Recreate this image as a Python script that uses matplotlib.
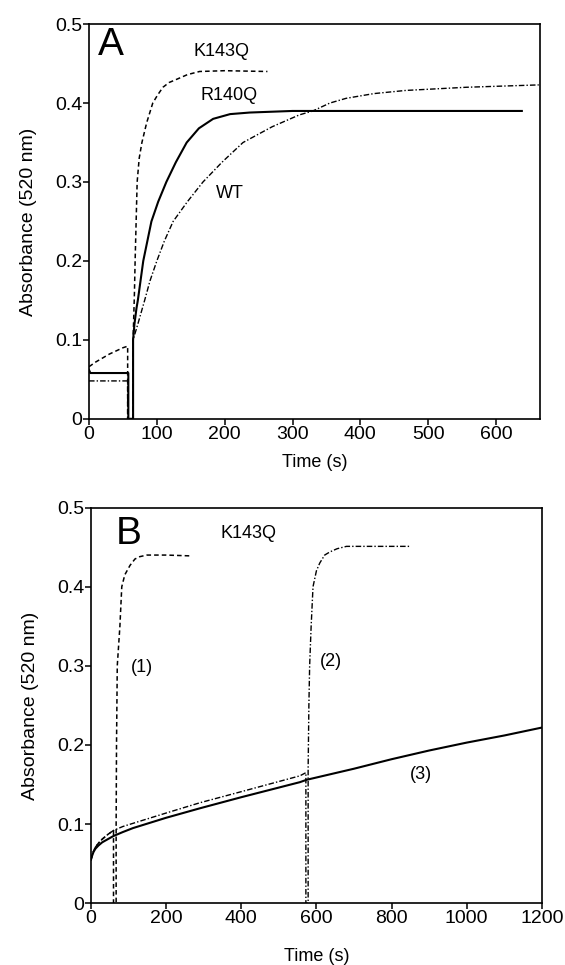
import matplotlib
matplotlib.use('Agg')
import matplotlib.pyplot as plt

plt.rcParams['font.family'] = ['Liberation Sans', 'DejaVu Sans']

# ---- panel A data (time s, absorbance at 520 nm) ----
k143q_t = [0, 10, 20, 30, 40, 50, 57, 57, 65, 65, 66, 67, 68, 69.5, 71, 74, 78, 85, 94, 101, 109,
           118, 129, 145, 163, 200, 263]
k143q_a = [0.066, 0.072, 0.077, 0.082, 0.086, 0.090, 0.092, 0, 0, 0.10, 0.13, 0.16, 0.2, 0.25, 0.3,
           0.33, 0.35, 0.375, 0.40, 0.41, 0.42, 0.426, 0.43, 0.436, 0.44, 0.441, 0.44]

r140q_t = [0, 2, 58, 58, 65, 65, 67, 70, 72, 76, 80, 86, 92, 102, 114, 128, 144, 162, 183, 208,
           237, 300, 638]
r140q_a = [0.062, 0.058, 0.058, 0, 0, 0.10, 0.12, 0.14, 0.15, 0.175, 0.2, 0.225, 0.25, 0.275, 0.3,
           0.325, 0.35, 0.368, 0.38, 0.386, 0.388, 0.39, 0.39]

wt_t = [0, 57, 57, 65, 65, 72, 82, 90, 100, 111, 124, 145, 168, 196, 227, 270, 310, 330, 355, 379,
        420, 467, 556, 663]
wt_a = [0.048, 0.048, 0, 0, 0.10, 0.12, 0.15, 0.175, 0.2, 0.225, 0.25, 0.275, 0.3, 0.325, 0.35,
        0.37, 0.385, 0.39, 0.40, 0.406, 0.412, 0.416, 0.42, 0.423]

# ---- panel B data ----
b1_t = [0, 3, 7, 12, 20, 30, 45, 60, 60, 67, 67, 68, 70, 77, 82, 90, 104, 117, 130, 149, 200, 263]
b1_a = [0.055, 0.060, 0.066, 0.071, 0.076, 0.081, 0.087, 0.092, 0, 0, 0.10, 0.2, 0.3, 0.35, 0.40,
        0.415, 0.427, 0.435, 0.438, 0.44, 0.44, 0.439]

b2_t = [0, 3, 7, 12, 20, 30, 45, 60, 85, 112, 200, 290, 400, 556, 572, 572, 578, 578, 580, 582,
        586, 591, 600, 609, 622, 636, 655, 680, 848]
b2_a = [0.055, 0.060, 0.066, 0.071, 0.076, 0.081, 0.087, 0.092, 0.097, 0.101, 0.114, 0.127,
        0.141, 0.161, 0.165, 0, 0, 0.17, 0.25, 0.3, 0.35, 0.40, 0.42, 0.43, 0.44, 0.444, 0.448,
        0.451, 0.451]

b3_t = [0, 3, 7, 12, 20, 30, 45, 60, 85, 112, 200, 290, 400, 556, 574, 700, 800, 900, 1000, 1100, 1200]
b3_a = [0.055, 0.060, 0.065, 0.069, 0.073, 0.077, 0.081, 0.085, 0.090, 0.095, 0.108, 0.12, 0.134,
        0.153, 0.156, 0.170, 0.182, 0.193, 0.203, 0.212, 0.222]

y_ticks = [0, 0.1, 0.2, 0.3, 0.4, 0.5]
y_labels = ['0', '0.1', '0.2', '0.3', '0.4', '0.5']

dashed = (0, (3, 2))
dashdot = (0, (4, 1.5, 1, 1.5))

fig = plt.figure(figsize=(5.65, 9.65), dpi=100)
axA = fig.add_axes([0.1575, 0.566, 0.7985, 0.409])
axB = fig.add_axes([0.161, 0.064, 0.798, 0.410])

axA.plot(k143q_t, k143q_a, color='black', lw=1.1, linestyle=dashed)
axA.plot(r140q_t, r140q_a, color='black', lw=1.5)
axA.plot(wt_t, wt_a, color='black', lw=1.0, linestyle=dashdot)
axA.set_xlim(0, 665)
axA.set_xticks([0, 100, 200, 300, 400, 500, 600])

axA.text(13, 0.473, 'A', fontsize=28, va='center', ha='left')
axA.text(196, 0.465, 'K143Q', fontsize=13, ha='center', va='center')
axA.text(207, 0.41, 'R140Q', fontsize=13, ha='center', va='center')
axA.text(207, 0.286, 'WT', fontsize=13, ha='center', va='center')

axB.plot(b1_t, b1_a, color='black', lw=1.1, linestyle=dashed)
axB.plot(b2_t, b2_a, color='black', lw=1.0, linestyle=dashdot)
axB.plot(b3_t, b3_a, color='black', lw=1.5)
axB.set_xlim(0, 1200)
axB.set_xticks([0, 200, 400, 600, 800, 1000, 1200])

axB.text(66, 0.466, 'B', fontsize=28, va='center', ha='left')
axB.text(418, 0.467, 'K143Q', fontsize=13, ha='center', va='center')
axB.text(135, 0.298, '(1)', fontsize=13, ha='center', va='center')
axB.text(638, 0.305, '(2)', fontsize=13, ha='center', va='center')
axB.text(879, 0.163, '(3)', fontsize=13, ha='center', va='center')

for ax in (axA, axB):
    ax.set_ylim(0, 0.5)
    ax.set_yticks(y_ticks)
    ax.set_yticklabels(y_labels)
    ax.tick_params(direction='out', length=4, width=1.1, labelsize=14, pad=1)
    for s in ax.spines.values():
        s.set_linewidth(1.2)
    ax.set_ylabel('Absorbance (520 nm)', fontsize=14, labelpad=13)

axA.set_xlabel('Time (s)', fontsize=13, labelpad=8)
axB.set_xlabel('Time (s)', fontsize=13, labelpad=15)

fig.savefig('out.png', dpi=100)
